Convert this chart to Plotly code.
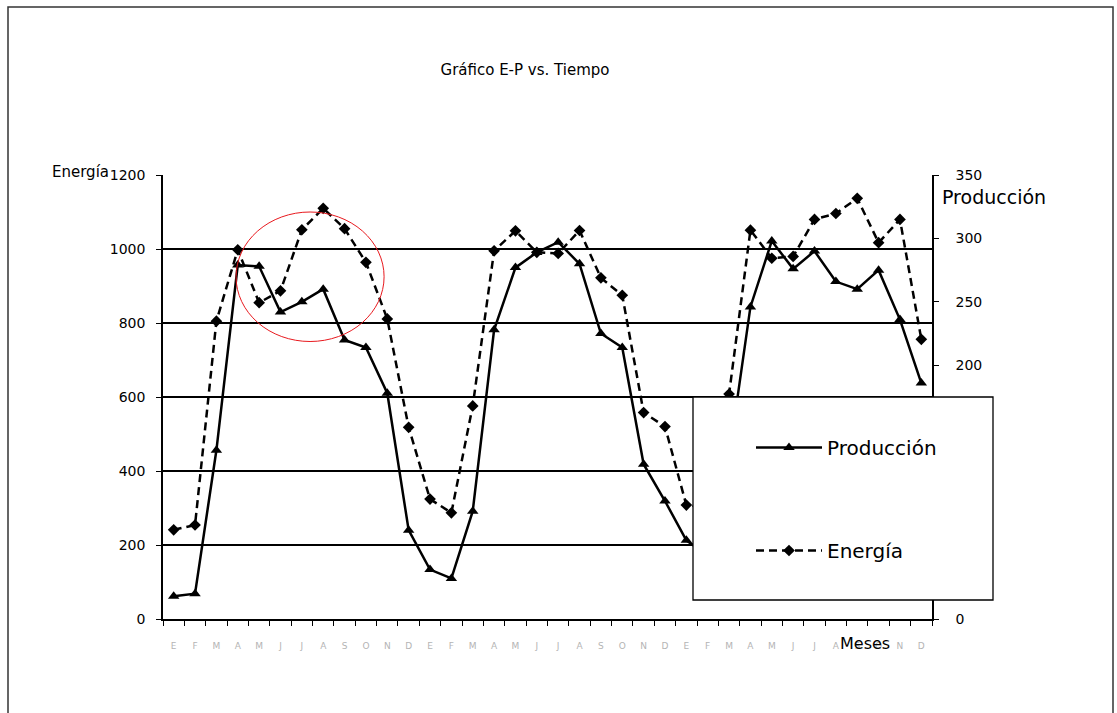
import plotly.graph_objects as go

# Month initials for three consecutive years
meses = ["E", "F", "M", "A", "M", "J", "J", "A", "S", "O", "N", "D"] * 3

# Monthly energy (left axis)
energia = [
    241, 254, 805, 998, 855, 887, 1052, 1110, 1055, 964, 811, 518,
    324, 287, 576, 995, 1049, 991, 988, 1050, 922, 875, 558, 520,
    308, 300, 608, 1051, 975, 980, 1080, 1096, 1137, 1017, 1080, 756,
]

# Monthly production (right axis)
produccion = [
    18, 20, 133, 279, 278, 242, 250, 260, 220, 214, 178, 70,
    39, 32, 85, 228, 277, 289, 297, 280, 225, 214, 122, 93,
    62, 50, 128, 246, 298, 276, 290, 266, 260, 275, 236, 186,
]

idx = list(range(len(meses)))
FONT = "DejaVu Sans"

# Plot-area geometry in pixels
W, H = 1117, 713
L, R, T, B = 163, 932, 175, 619


def px(x):
    return (x - L) / (R - L)


def py(y):
    return (B - y) / (B - T)


fig = go.Figure()

fig.add_trace(go.Scatter(
    x=idx, y=produccion, name="Producción", yaxis="y2",
    mode="lines+markers", legendgroup="p",
    line=dict(color="black", width=2.5),
    marker=dict(symbol="triangle-up", size=10, color="black"),
))
fig.add_trace(go.Scatter(
    x=idx, y=energia, name="Energía", yaxis="y",
    mode="lines+markers", legendgroup="e",
    line=dict(color="black", width=2.5, dash="8px,5px"),
    marker=dict(symbol="diamond", size=9, color="black"),
))

shapes = [
    # highlighted zone in the first year
    dict(type="circle", xref="x", yref="y", x0=2.92, x1=9.85, y0=750, y1=1100,
         line=dict(color="#e8191e", width=1)),
    # legend frame (drawn over the plot)
    dict(type="rect", xref="paper", yref="paper", layer="above",
         x0=px(693), x1=px(993), y0=py(600), y1=py(397),
         fillcolor="white", line=dict(color="black", width=1.3)),
    # outer chart frame
    dict(type="rect", xref="paper", yref="paper",
         x0=px(8), x1=px(1113), y0=py(740), y1=py(7),
         line=dict(color="#333333", width=1.5)),
]

annotations = [
    dict(text="Energía", x=px(50), y=py(172), xref="paper", yref="paper",
         xanchor="left", yanchor="middle", showarrow=False,
         font=dict(family=FONT, size=15, color="black")),
    dict(text="Producción", x=px(940), y=py(197), xref="paper", yref="paper",
         xanchor="left", yanchor="middle", showarrow=False,
         font=dict(family=FONT, size=19, color="black")),
    dict(text="Meses", x=px(838), y=py(643), xref="paper", yref="paper",
         xanchor="left", yanchor="middle", showarrow=False,
         font=dict(family=FONT, size=16, color="black")),
]

fig.update_layout(
    width=W, height=H,
    margin=dict(l=L, r=W - R, t=T, b=H - B),
    paper_bgcolor="white", plot_bgcolor="white",
    title=dict(text="Gráfico E-P vs. Tiempo", x=525 / W, xanchor="center",
               y=1 - 70 / H, yanchor="middle",
               font=dict(family=FONT, size=15, color="black")),
    xaxis=dict(
        range=[-0.5, 35.5], tickmode="array", tickvals=idx, ticktext=meses,
        ticks="", showgrid=False, zeroline=False,
        showline=True, linecolor="black", linewidth=1.5,
        tickfont=dict(family=FONT, size=9, color="#b4b4b4"),
        ticklabelstandoff=17,
        minor=dict(tickmode="linear", tick0=-0.5, dtick=1, ticks="outside",
                   ticklen=5, tickcolor="black", tickwidth=1.3, showgrid=False),
    ),
    yaxis=dict(
        range=[0, 1200], tickmode="linear", tick0=0, dtick=200,
        showgrid=True, gridcolor="black", gridwidth=1.5, zeroline=False,
        showline=True, linecolor="black", linewidth=1.5,
        ticks="outside", ticklen=5, tickcolor="black", tickwidth=1.3,
        tickfont=dict(family=FONT, size=14, color="black"),
        ticklabelstandoff=8,
    ),
    yaxis2=dict(
        range=[0, 350], tickmode="linear", tick0=0, dtick=50,
        overlaying="y", side="right", showgrid=False, zeroline=False,
        showline=True, linecolor="black", linewidth=1.5,
        ticks="outside", ticklen=5, tickcolor="black", tickwidth=1.3,
        tickfont=dict(family=FONT, size=14, color="black"),
        ticklabelstandoff=14,
    ),
    legend=dict(
        x=px(751), y=py(428), xanchor="left", yanchor="top",
        bgcolor="rgba(0,0,0,0)", borderwidth=0,
        font=dict(family=FONT, size=20, color="black"),
        itemwidth=66, traceorder="grouped", tracegroupgap=74,
    ),
    shapes=shapes,
    annotations=annotations,
    showlegend=True,
)

fig.write_html("out.html")
